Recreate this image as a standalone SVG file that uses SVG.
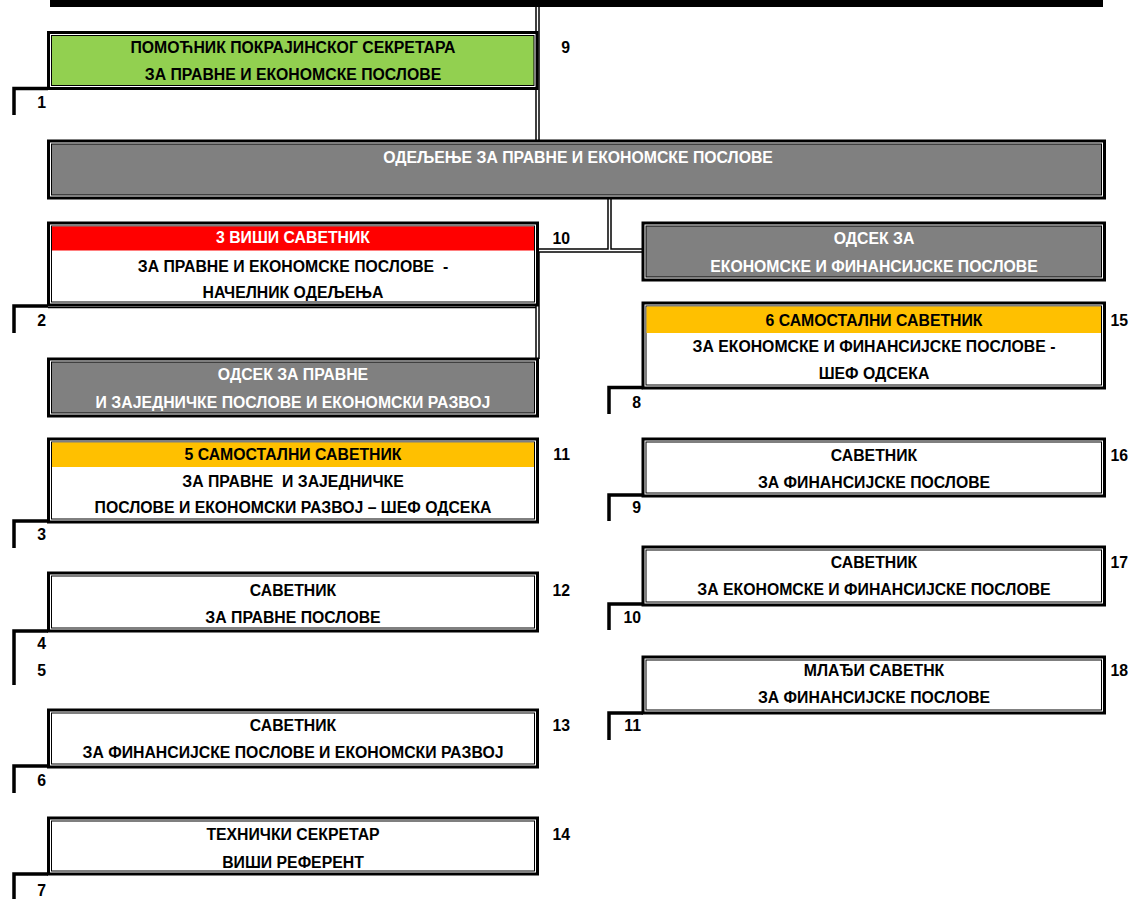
<svg xmlns="http://www.w3.org/2000/svg" width="1131" height="899" viewBox="0 0 1131 899">
<style>
text{font-family:"Liberation Sans","Noto Sans",sans-serif;font-weight:bold;font-size:15.8px;fill:#000}
.c{text-anchor:middle}
.w{fill:#fff}
.e{text-anchor:end}
.o{fill:#fff;stroke:#000;stroke-width:3}
.i{stroke:#000;stroke-width:1}
.cb{fill:none;stroke:#000;stroke-width:4.5}
.cw{fill:none;stroke:#fff;stroke-width:1.5}
.br{fill:none;stroke:#000;stroke-width:3.5}
</style>
<rect x="0" y="0" width="1131" height="899" fill="#fff"/>
<g id="connectors">
<rect x="50" y="0" width="1053" height="7" fill="#000"/>
<path class="cb" d="M537.5,7V141M609.5,198V250.5H643M609.5,250.5H537.5V359"/>
<path class="cw" d="M537.5,7V141M609.5,198V250.5H643M609.5,250.5H537.5V359"/>
<path d="M48,307.5H536" fill="none" stroke="#000" stroke-width="1.3"/>
<path class="br" d="M48,88.5H14V115M48,306H14V333M48,521H14V548M48,631H14V685M48,766H14V793M48,874H14V899M643,387.5H609V414M643,495H609V521M643,604H609V630M643,713H609V740"/>
</g>
<g id="n9">
<rect class="o" x="48.5" y="32.5" width="488.5" height="56"/>
<rect class="i" x="51.5" y="35.5" width="482.5" height="50" fill="#92d050"/>
<text class="c" x="293" y="52.5">ПОМОЋНИК ПОКРАЈИНСКОГ СЕКРЕТАРА</text>
<text class="c" x="293" y="79.5">ЗА ПРАВНЕ И ЕКОНОМСКЕ ПОСЛОВЕ</text>
</g>
<g id="dept">
<rect class="o" x="48.5" y="141" width="1056" height="57"/>
<rect class="i" x="51.5" y="144" width="1050" height="51" fill="#808080"/>
<text class="c w" x="578" y="162.5">ОДЕЉЕЊЕ ЗА ПРАВНЕ И ЕКОНОМСКЕ ПОСЛОВЕ</text>
</g>
<g id="n10">
<rect class="o" x="48.5" y="223" width="489" height="82"/>
<rect class="i" x="51.5" y="226" width="483" height="76" fill="#fff"/>
<rect x="52" y="226.5" width="482" height="24" fill="#ff0000"/>
<text class="c w" x="293" y="242.5">3 ВИШИ САВЕТНИК</text>
<text class="c" x="293" y="271.5" xml:space="preserve">ЗА ПРАВНЕ И ЕКОНОМСКЕ ПОСЛОВЕ  -</text>
<text class="c" x="293" y="297.5">НАЧЕЛНИК ОДЕЉЕЊА</text>
</g>
<g id="odsek1">
<rect class="o" x="48.5" y="359" width="489" height="57"/>
<rect class="i" x="51.5" y="362" width="483" height="51" fill="#808080"/>
<text class="c w" x="293" y="379.5">ОДСЕК ЗА ПРАВНЕ</text>
<text class="c w" x="293" y="407.5">И ЗАЈЕДНИЧКЕ ПОСЛОВЕ И ЕКОНОМСКИ РАЗВОЈ</text>
</g>
<g id="n11">
<rect class="o" x="48.5" y="439" width="489" height="83"/>
<rect class="i" x="51.5" y="442" width="483" height="77" fill="#fff"/>
<rect x="52" y="442.5" width="482" height="24.5" fill="#ffc000"/>
<text class="c" x="293" y="459.5">5 САМОСТАЛНИ САВЕТНИК</text>
<text class="c" x="293" y="486.5" xml:space="preserve">ЗА ПРАВНЕ  И ЗАЈЕДНИЧКЕ</text>
<text class="c" x="293" y="512.5">ПОСЛОВЕ И ЕКОНОМСКИ РАЗВОЈ – ШЕФ ОДСЕКА</text>
</g>
<g id="n12">
<rect class="o" x="48.5" y="573" width="489" height="58"/>
<rect class="i" x="51.5" y="576" width="483" height="52" fill="#fff"/>
<text class="c" x="293" y="595.5">САВЕТНИК</text>
<text class="c" x="293" y="622.5">ЗА ПРАВНЕ ПОСЛОВЕ</text>
</g>
<g id="n13">
<rect class="o" x="48.5" y="710" width="489" height="57"/>
<rect class="i" x="51.5" y="713" width="483" height="51" fill="#fff"/>
<text class="c" x="293" y="730.5">САВЕТНИК</text>
<text class="c" x="293" y="757.5">ЗА ФИНАНСИЈСКЕ ПОСЛОВЕ И ЕКОНОМСКИ РАЗВОЈ</text>
</g>
<g id="n14">
<rect class="o" x="48.5" y="818" width="489" height="56"/>
<rect class="i" x="51.5" y="821" width="483" height="50" fill="#fff"/>
<text class="c" x="293" y="839.5">ТЕХНИЧКИ СЕКРЕТАР</text>
<text class="c" x="293" y="867.5">ВИШИ РЕФЕРЕНТ</text>
</g>
<g id="odsek2">
<rect class="o" x="643" y="223" width="461.5" height="57"/>
<rect class="i" x="646" y="226" width="455.5" height="51" fill="#808080"/>
<text class="c w" x="874" y="243.5">ОДСЕК ЗА</text>
<text class="c w" x="874" y="271.5">ЕКОНОМСКЕ И ФИНАНСИЈСКЕ ПОСЛОВЕ</text>
</g>
<g id="n15">
<rect class="o" x="643" y="303" width="461.5" height="85"/>
<rect class="i" x="646" y="306" width="455.5" height="79" fill="#fff"/>
<rect x="646.5" y="306.5" width="454.5" height="26.5" fill="#ffc000"/>
<text class="c" x="874" y="325.5">6 САМОСТАЛНИ САВЕТНИК</text>
<text class="c" x="874" y="351.5">ЗА ЕКОНОМСКЕ И ФИНАНСИЈСКЕ ПОСЛОВЕ -</text>
<text class="c" x="874" y="378.5">ШЕФ ОДСЕКА</text>
</g>
<g id="n16">
<rect class="o" x="643" y="439" width="461.5" height="57"/>
<rect class="i" x="646" y="442" width="455.5" height="51" fill="#fff"/>
<text class="c" x="874" y="460.5">САВЕТНИК</text>
<text class="c" x="874" y="487.5">ЗА ФИНАНСИЈСКЕ ПОСЛОВЕ</text>
</g>
<g id="n17">
<rect class="o" x="643" y="547" width="461.5" height="58"/>
<rect class="i" x="646" y="550" width="455.5" height="52" fill="#fff"/>
<text class="c" x="874" y="567.5">САВЕТНИК</text>
<text class="c" x="874" y="594.5">ЗА ЕКОНОМСКЕ И ФИНАНСИЈСКЕ ПОСЛОВЕ</text>
</g>
<g id="n18">
<rect class="o" x="643" y="657" width="461.5" height="56"/>
<rect class="i" x="646" y="660" width="455.5" height="50" fill="#fff"/>
<text class="c" x="874" y="675.5">МЛАЂИ САВЕТНК</text>
<text class="c" x="874" y="702.5">ЗА ФИНАНСИЈСКЕ ПОСЛОВЕ</text>
</g>
<g id="numbers">
<text class="e" x="570" y="52.5">9</text>
<text class="e" x="570" y="243.5">10</text>
<text class="e" x="570" y="459.5">11</text>
<text class="e" x="570" y="595.5">12</text>
<text class="e" x="570" y="730.5">13</text>
<text class="e" x="570" y="839.5">14</text>
<text class="e" x="1128" y="325.5">15</text>
<text class="e" x="1128" y="460.5">16</text>
<text class="e" x="1128" y="567.5">17</text>
<text class="e" x="1128" y="675.5">18</text>
<text class="e" x="46" y="107.5">1</text>
<text class="e" x="46" y="325.5">2</text>
<text class="e" x="46" y="539.5">3</text>
<text class="e" x="46" y="648.5">4</text>
<text class="e" x="46" y="675.5">5</text>
<text class="e" x="46" y="785.5">6</text>
<text class="e" x="46" y="895.5">7</text>
<text class="e" x="641" y="407.5">8</text>
<text class="e" x="641" y="512.5">9</text>
<text class="e" x="641" y="622.5">10</text>
<text class="e" x="641" y="730.5">11</text>
</g>
</svg>
